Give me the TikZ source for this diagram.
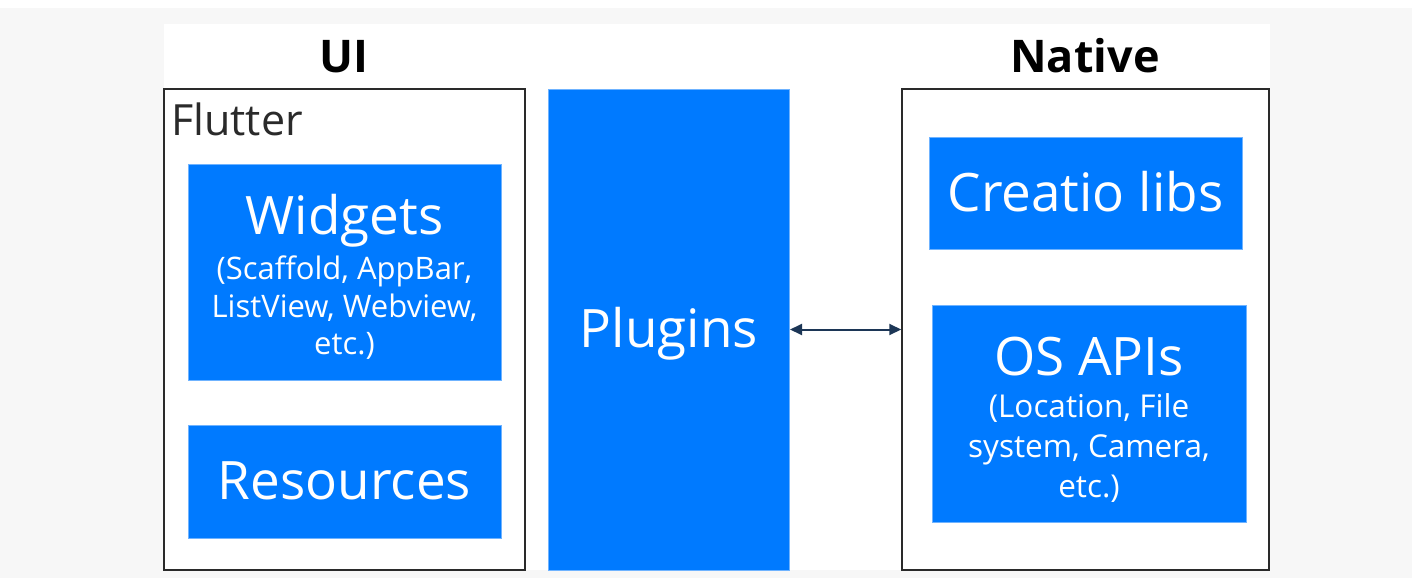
\documentclass[tikz,border=0pt]{standalone}
\usepackage{fontspec}
\setmainfont{Open Sans}
\usetikzlibrary{arrows.meta}
\definecolor{bg}{HTML}{F7F7F7}
\definecolor{fblue}{HTML}{007AFF}
\definecolor{fedge}{HTML}{6FB3FF}
\definecolor{arr}{HTML}{1C3656}
\definecolor{frame}{HTML}{2A2A2A}
\begin{document}
\begin{tikzpicture}[x=1pt,y=-1pt,
  outerbox/.style={draw=frame, line width=1.5pt, fill=white, inner sep=0pt},
  bluebox/.style={draw=fedge, line width=1pt, fill=fblue, text=white, inner sep=0pt, align=center},
  bigtxt/.style={font=\fontsize{53}{60}\selectfont, text height=41pt, text depth=5pt},
  head/.style={font=\bfseries\fontsize{45}{54}\selectfont, anchor=base, inner sep=0pt}]
\useasboundingbox (0,0) rectangle (1412,578);
\fill[white] (0,0) rectangle (1412,578);
\fill[bg] (0,8) rectangle (1412,578);
\fill[white] (164,24) rectangle (1270,570);

\node[head] (ui) at (343.5,72) {UI};
\node[head] (nativehead) at (1085,72) {Native};

\node[outerbox, minimum width=361pt, minimum height=481pt] (flutter) at (344.5,329.5) {};
\node[anchor=base west, inner sep=0pt, text=frame, font=\fontsize{43}{52}\selectfont] (flutterlbl) at (171,135) {Flutter};

\node[bluebox, font=\fontsize{31}{37.5}\selectfont, minimum width=313pt, minimum height=216pt] (widgets) at (344.5,272)
  {\rule{0pt}{50pt}{\fontsize{53}{60}\selectfont Widgets}\\[7.5pt](Scaffold, AppBar,\\ListView, Webview,\\etc.)};
\node[bluebox, bigtxt, minimum width=313pt, minimum height=113pt] (resources) at (344.5,481.5) {Resources};

\node[bluebox, bigtxt, minimum width=241pt, minimum height=481pt] (plugins) at (669,329.5) {Plugins};

\node[outerbox, minimum width=367pt, minimum height=481pt] (native) at (1085.5,329.5) {};
\node[bluebox, bigtxt, minimum width=313pt, minimum height=112pt] (creatio) at (1085.5,193) {Creatio libs};
\node[bluebox, font=\fontsize{31.5}{40}\selectfont, minimum width=314pt, minimum height=217pt] (osapis) at (1089,413.5)
  {\rule{0pt}{50pt}{\fontsize{53}{60}\selectfont OS APIs}\\[2pt](Location, File\\system, Camera,\\etc.)};

\draw[arr, line width=2pt, {Triangle[length=12pt,width=11pt]}-{Triangle[length=12pt,width=11pt]}] (plugins) -- (native);
\end{tikzpicture}
\end{document}
